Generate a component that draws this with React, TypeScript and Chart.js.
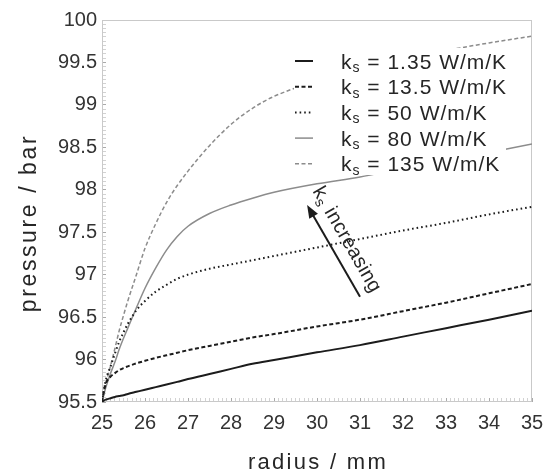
import React, { useEffect, useRef } from 'react';
import { Chart, registerables } from 'chart.js';

Chart.register(...registerables);

// ---------- data ----------
const radius = [25, 25.05, 25.1, 25.2, 25.3, 25.4, 25.5, 25.6, 25.8, 26, 26.25, 26.5, 26.75, 27, 27.5, 28, 28.5, 29, 30, 31, 32, 33, 34, 35];

const pressureK1_35 = [95.5, 95.52, 95.53, 95.545, 95.56, 95.57, 95.58, 95.595, 95.62, 95.645, 95.675, 95.705, 95.737, 95.77, 95.83, 95.89, 95.95, 95.995, 96.085, 96.17, 96.27, 96.37, 96.47, 96.575];
const pressureK13_5 = [95.5, 95.64, 95.73, 95.8, 95.84, 95.875, 95.9, 95.92, 95.955, 95.985, 96.02, 96.05, 96.08, 96.11, 96.16, 96.21, 96.26, 96.3, 96.39, 96.47, 96.57, 96.67, 96.78, 96.89];
const pressureK50 = [95.5, 95.66, 95.78, 95.92, 96.07, 96.21, 96.32, 96.42, 96.58, 96.69, 96.8, 96.88, 96.95, 97.0, 97.07, 97.12, 97.17, 97.22, 97.32, 97.42, 97.52, 97.61, 97.71, 97.8];
const pressureK80 = [95.5, 95.6, 95.69, 95.84, 95.97, 96.12, 96.25, 96.37, 96.61, 96.84, 97.08, 97.29, 97.45, 97.57, 97.72, 97.82, 97.9, 97.97, 98.07, 98.15, 98.25, 98.34, 98.44, 98.54];
const pressureK135 = [95.5, 95.63, 95.74, 95.93, 96.13, 96.34, 96.52, 96.69, 97.0, 97.31, 97.6, 97.85, 98.05, 98.22, 98.52, 98.77, 98.96, 99.1, 99.28, 99.42, 99.54, 99.64, 99.73, 99.81];

const conductivityLabels = ['1.35', '13.5', '50', '80', '135'];
const xMin = 25;
const xMax = 35;
const yMin = 95.5;
const yMax = 100;
const xTitle = 'radius / mm';
const yTitle = 'pressure / bar';
const annotationWord = 'increasing';
// arrow and annotation in data coordinates
const arrowTail = { x: 31.0, y: 96.74 };
const arrowHead = { x: 29.77, y: 97.82 };
const annotationCenter = { x: 30.72, y: 97.42 };

// ---------- styles ----------
const FONT = '"Liberation Sans", Arial, Helvetica, sans-serif';
const BLACK = '#1c1c1c';
const GRAY = '#8c8c8c';
const FRAME = '#c9c9c9';
const TEXT = '#262626';

const seriesStyles = [
  { color: BLACK, width: 2, dash: [] as number[] },
  { color: BLACK, width: 2, dash: [4, 2.5] },
  { color: BLACK, width: 2, dash: [1.6, 3] },
  { color: GRAY, width: 1.5, dash: [] as number[] },
  { color: GRAY, width: 1.5, dash: [4, 2.5] },
];

const seriesValues = [pressureK1_35, pressureK13_5, pressureK50, pressureK80, pressureK135];

function isMultiple(v: number, step: number) {
  const r = v / step;
  return Math.abs(r - Math.round(r)) < 1e-6;
}

function drawKs(ctx: CanvasRenderingContext2D, x: number, y: number, mainSize: number, subSize: number, rest: string, spacing: string) {
  ctx.letterSpacing = spacing;
  ctx.textAlign = 'left';
  ctx.textBaseline = 'alphabetic';
  ctx.font = `${mainSize}px ${FONT}`;
  ctx.fillText('k', x, y);
  let cx = x + ctx.measureText('k').width;
  ctx.font = `${subSize}px ${FONT}`;
  ctx.fillText('s', cx, y + subSize * 0.25);
  cx += ctx.measureText('s').width;
  ctx.font = `${mainSize}px ${FONT}`;
  ctx.fillText(rest, cx, y);
}

function measureKs(ctx: CanvasRenderingContext2D, mainSize: number, subSize: number, rest: string, spacing: string) {
  ctx.letterSpacing = spacing;
  ctx.font = `${mainSize}px ${FONT}`;
  let w = ctx.measureText('k').width + ctx.measureText(rest).width;
  ctx.font = `${subSize}px ${FONT}`;
  w += ctx.measureText('s').width;
  return w;
}

const decorPlugin = {
  id: 'decor',
  beforeDatasetsDraw(chart: any) {
    const { ctx, chartArea: a } = chart;
    ctx.save();
    ctx.strokeStyle = FRAME;
    ctx.lineWidth = 1;
    ctx.strokeRect(Math.round(a.left) + 0.5, Math.round(a.top) + 0.5, Math.round(a.right - a.left) - 1, Math.round(a.bottom - a.top) - 1);
    ctx.restore();
  },
  afterDatasetsDraw(chart: any) {
    const { ctx, chartArea: a, scales } = chart;
    const xs = scales.x;
    const ys = scales.y;
    ctx.save();

    // legend box (white, occludes curves)
    const boxL = a.right - 238;
    const boxT = a.top + 28;
    ctx.fillStyle = '#ffffff';
    ctx.fillRect(boxL, boxT, 212, 127);

    const datasets = chart.data.datasets;
    datasets.forEach((ds: any, i: number) => {
      const cy = a.top + 41 + i * 25.7;
      ctx.save();
      ctx.strokeStyle = ds.borderColor;
      ctx.lineWidth = ds.borderWidth;
      ctx.setLineDash(ds.borderDash || []);
      ctx.beginPath();
      ctx.moveTo(a.right - 237, cy);
      ctx.lineTo(a.right - 219, cy);
      ctx.stroke();
      ctx.restore();
      ctx.fillStyle = TEXT;
      drawKs(ctx, a.right - 191, cy + 7.5, 21, 14, ` = ${ds.label} W/m/K`, '1px');
    });

    // arrow
    const tx = xs.getPixelForValue(arrowTail.x);
    const ty = ys.getPixelForValue(arrowTail.y);
    const hx = xs.getPixelForValue(arrowHead.x);
    const hy = ys.getPixelForValue(arrowHead.y);
    const ang = Math.atan2(hy - ty, hx - tx);
    const headLen = 13;
    const headHalf = 5;
    ctx.strokeStyle = BLACK;
    ctx.fillStyle = BLACK;
    ctx.lineWidth = 2;
    ctx.beginPath();
    ctx.moveTo(tx, ty);
    ctx.lineTo(hx - Math.cos(ang) * headLen * 0.8, hy - Math.sin(ang) * headLen * 0.8);
    ctx.stroke();
    ctx.beginPath();
    ctx.moveTo(hx, hy);
    ctx.lineTo(hx - Math.cos(ang) * headLen + Math.sin(ang) * headHalf, hy - Math.sin(ang) * headLen - Math.cos(ang) * headHalf);
    ctx.lineTo(hx - Math.cos(ang) * headLen - Math.sin(ang) * headHalf, hy - Math.sin(ang) * headLen + Math.cos(ang) * headHalf);
    ctx.closePath();
    ctx.fill();

    // annotation text along arrow
    const textAng = Math.atan2(ty - hy, tx - hx);
    const cxp = xs.getPixelForValue(annotationCenter.x);
    const cyp = ys.getPixelForValue(annotationCenter.y);
    ctx.save();
    ctx.translate(cxp, cyp);
    ctx.rotate(textAng);
    ctx.fillStyle = TEXT;
    const rest = ` ${annotationWord}`;
    const w = measureKs(ctx, 20, 14, rest, '0.4px');
    drawKs(ctx, -w / 2, 7, 20, 14, rest, '0.4px');
    ctx.restore();

    // axis titles
    ctx.fillStyle = TEXT;
    ctx.letterSpacing = '2.3px';
    ctx.font = `22px ${FONT}`;
    ctx.textAlign = 'center';
    ctx.textBaseline = 'alphabetic';
    ctx.fillText(xTitle, (a.left + a.right) / 2 + 1, a.bottom + 67);

    ctx.save();
    ctx.letterSpacing = '2.6px';
    ctx.font = `23px ${FONT}`;
    ctx.translate(a.left - 66, (a.top + a.bottom) / 2 + 12);
    ctx.rotate(-Math.PI / 2);
    ctx.fillText(yTitle, 0, 0);
    ctx.restore();

    ctx.restore();
  },
};

export default function App() {
  const canvasRef = useRef<HTMLCanvasElement | null>(null);

  useEffect(() => {
    const canvas = canvasRef.current;
    if (!canvas) return;

    const datasets = seriesValues.map((vals, i) => ({
      label: conductivityLabels[i],
      data: radius.map((r, j) => ({ x: r, y: vals[j] })),
      borderColor: seriesStyles[i].color,
      backgroundColor: seriesStyles[i].color,
      borderWidth: seriesStyles[i].width,
      borderDash: seriesStyles[i].dash,
      pointRadius: 0,
      pointHoverRadius: 0,
      cubicInterpolationMode: 'monotone' as const,
      fill: false,
    }));

    const chart = new Chart(canvas, {
      type: 'line',
      data: { datasets },
      options: {
        animation: false,
        responsive: false,
        devicePixelRatio: 1,
        layout: { padding: { left: 0, top: 20, right: 16, bottom: 0 } },
        plugins: { legend: { display: false }, tooltip: { enabled: false } },
        scales: {
          x: {
            type: 'linear',
            min: xMin,
            max: xMax,
            afterFit: (s: any) => {
              s.height = 71;
              s.paddingLeft = 0;
              s.paddingRight = 0;
            },
            border: { display: false },
            grid: {
              drawOnChartArea: false,
              drawTicks: true,
              tickLength: -4,
              lineWidth: 1,
              color: (c: any) => (c.tick && isMultiple(c.tick.value, 1) ? '#aaaaaa' : '#d2d2d2'),
            },
            ticks: {
              stepSize: 0.1,
              autoSkip: false,
              maxRotation: 0,
              minRotation: 0,
              padding: 13,
              color: '#333333',
              font: { family: FONT, size: 20 },
              callback: (v: any) => (isMultiple(Number(v), 1) ? String(Math.round(Number(v))) : ''),
            },
            title: { display: false },
          },
          y: {
            type: 'linear',
            min: yMin,
            max: yMax,
            afterFit: (s: any) => {
              s.width = 102;
              s.paddingTop = 0;
              s.paddingBottom = 0;
            },
            border: { display: false },
            grid: {
              drawOnChartArea: false,
              drawTicks: true,
              tickLength: -4,
              lineWidth: 1,
              color: (c: any) => (c.tick && isMultiple(c.tick.value, 0.5) ? '#aaaaaa' : '#d2d2d2'),
            },
            ticks: {
              stepSize: 0.05,
              autoSkip: false,
              padding: 9,
              color: '#333333',
              font: { family: FONT, size: 20 },
              callback: (v: any) => {
                const n = Number(v);
                return isMultiple(n, 0.5) ? String(Number(n.toFixed(1))) : '';
              },
            },
            title: { display: false },
          },
        },
      },
      plugins: [decorPlugin],
    });

    return () => chart.destroy();
  }, []);

  return (
    <div style={{ position: 'absolute', left: 0, top: 0, width: 548, height: 473, background: '#ffffff' }}>
      <canvas ref={canvasRef} width={548} height={473} style={{ display: 'block', width: 548, height: 473 }} />
    </div>
  );
}
